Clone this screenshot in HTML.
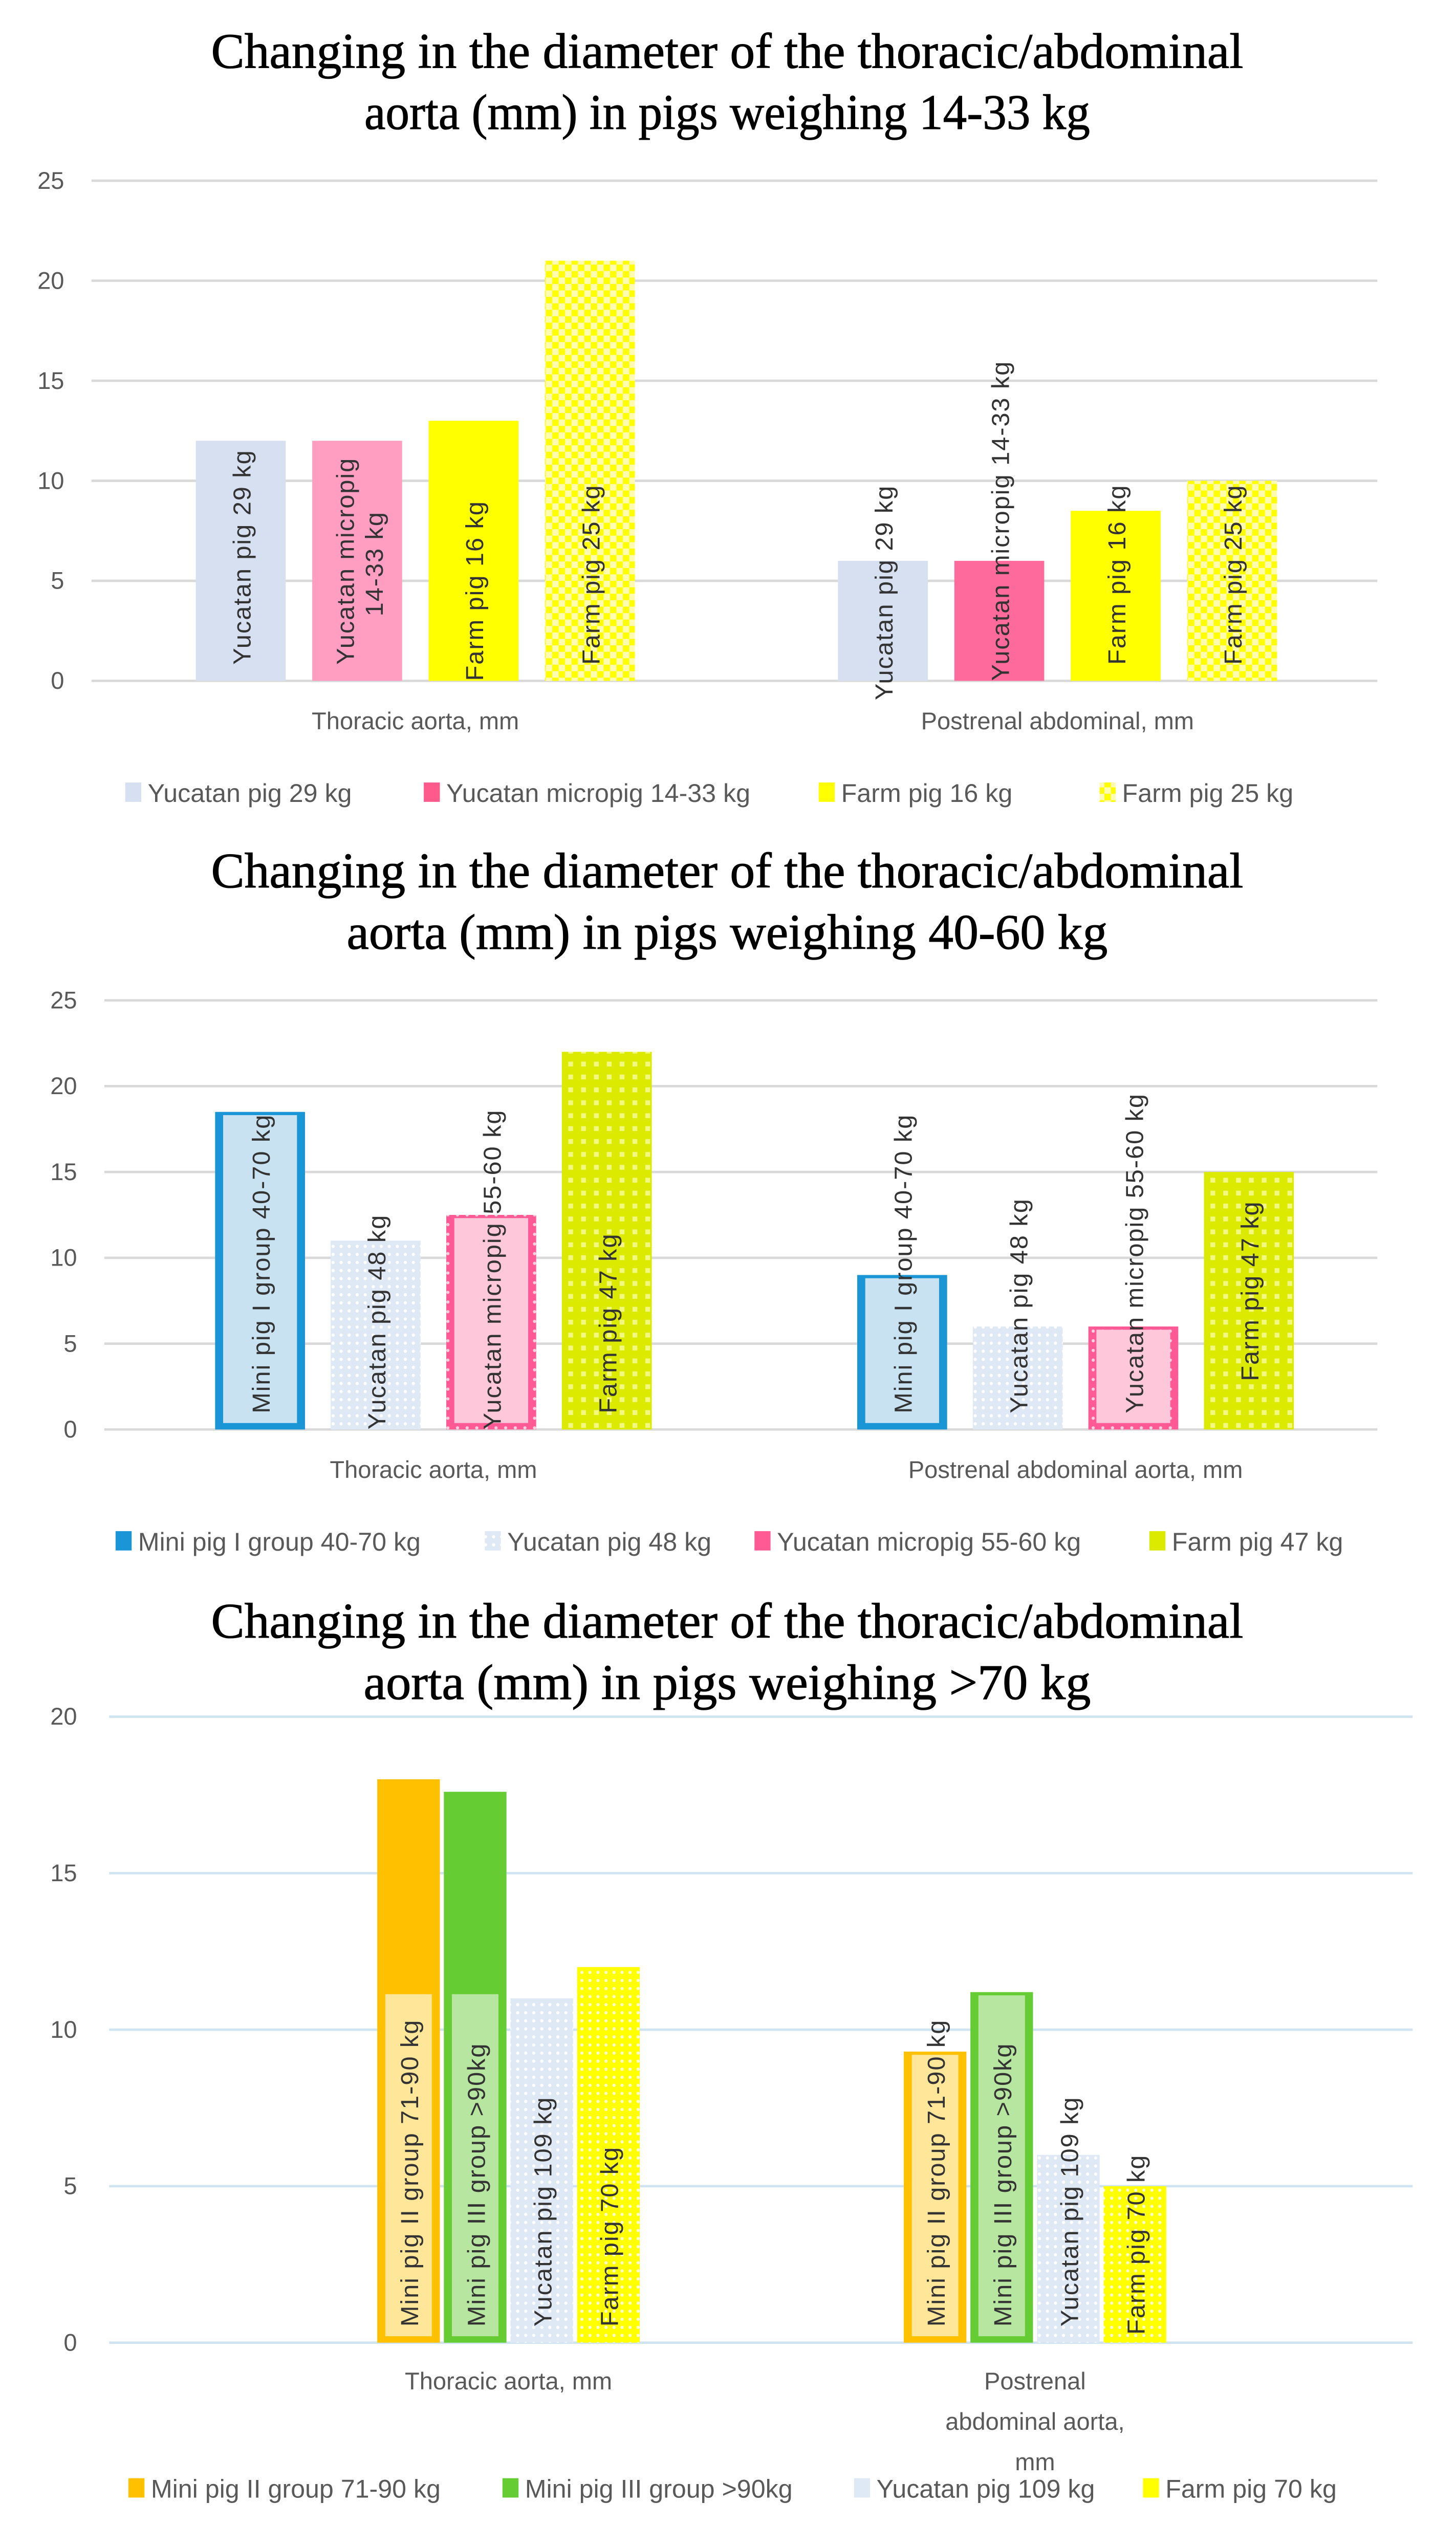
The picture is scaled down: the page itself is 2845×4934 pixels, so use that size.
<!DOCTYPE html>
<html><head><meta charset="utf-8"><style>
html,body{margin:0;padding:0;background:#fff}
svg{display:block}
</style></head><body>
<svg id="root" width="2845" height="4934" viewBox="0 0 907 1565" preserveAspectRatio="none" xmlns="http://www.w3.org/2000/svg">
<defs>
<pattern id="checkY" width="8" height="8" patternUnits="userSpaceOnUse"><rect width="8" height="8" fill="#ffff00"/><rect x="0" y="0" width="4" height="4" fill="#fffbb0"/><rect x="4" y="4" width="4" height="4" fill="#fffbb0"/></pattern>
<pattern id="dotLB" width="5" height="5" patternUnits="userSpaceOnUse"><rect width="5" height="5" fill="#dfe8f5"/><circle cx="2.5" cy="2.5" r="1" fill="#fff"/></pattern>
<pattern id="dotPk" width="6" height="6" patternUnits="userSpaceOnUse"><rect width="6" height="6" fill="#ff5a94"/><circle cx="3" cy="3" r="1" fill="#ffd0e0"/></pattern>
<pattern id="dotYG" width="8" height="8" patternUnits="userSpaceOnUse"><rect width="8" height="8" fill="#dcea00"/><rect x="2" y="2" width="3" height="3" fill="#f2f880"/></pattern>
<pattern id="dotY" width="5" height="5" patternUnits="userSpaceOnUse"><rect width="5" height="5" fill="#ffff00"/><circle cx="2.5" cy="2.5" r="1" fill="#fffbd0"/></pattern>
</defs>
<g id="charts"></g>
</svg>
<script>
// ---- Chart 1 data ----
const c1Categories = ["Thoracic aorta, mm", "Postrenal abdominal, mm"];
const c1Series = ["Yucatan pig 29 kg", "Yucatan micropig 14-33 kg", "Farm pig 16 kg", "Farm pig 25 kg"];
const c1Thoracic = [12, 12, 13, 21];
const c1Postrenal = [6, 6, 8.5, 10];
const c1Ticks = [0, 5, 10, 15, 20, 25];
// ---- Chart 2 data ----
const c2Categories = ["Thoracic aorta, mm", "Postrenal abdominal aorta, mm"];
const c2Series = ["Mini pig I group 40-70 kg", "Yucatan pig 48 kg", "Yucatan micropig 55-60 kg", "Farm pig 47 kg"];
const c2Thoracic = [18.5, 11, 12.5, 22];
const c2Postrenal = [9, 6, 6, 15];
const c2Ticks = [0, 5, 10, 15, 20, 25];
// ---- Chart 3 data ----
const c3Categories = ["Thoracic aorta, mm", "Postrenal abdominal aorta, mm"];
const c3Series = ["Mini pig II group 71-90 kg", "Mini pig III group  >90kg", "Yucatan pig 109 kg", "Farm pig 70 kg"];
const c3Thoracic = [18, 17.6, 11, 12];
const c3Postrenal = [9.3, 11.2, 6, 5];
const c3Ticks = [0, 5, 10, 15, 20];

const NS = "http://www.w3.org/2000/svg";
const root = document.getElementById('charts');
function mk(tag, attrs, parent, text) {
  const e = document.createElementNS(NS, tag);
  for (const k in attrs) e.setAttribute(k, attrs[k]);
  if (text !== undefined) e.textContent = text;
  (parent || root).appendChild(e);
  return e;
}

const cfgs = [
  {id:'chart1', title:["Changing in the diameter of the thoracic/abdominal","aorta (mm) in pigs weighing  14-33 kg"], ty:[42,80], tl2:452,
   cats:c1Categories, series:c1Series, vals:[c1Thoracic,c1Postrenal], ticks:c1Ticks, max:25,
   y0:422, yTop:112, gx0:57, gx1:858, grid:'#d9d9d9', groupX:[122,522], bw:56, step:72.5,
   fills:[['#d6e0f0','#d6e0f0'],['#ff9ec0','#ff6a9c'],['#ffff00','#ffff00'],['url(#checkY)','url(#checkY)']],
   inner:[null,null,null,null], catY:[[452],[452]], legY:497, legX:[78,264,510,685], legFill:['#d6e0f0','#ff5a8c','#ffff00','url(#checkY)'],
   labelOff:[[-10,-10,0,-10],[12,0,-10,-10]]},
  {id:'chart2', title:["Changing in the diameter of the thoracic/abdominal","aorta (mm) in pigs weighing  40-60 kg"], ty:[550,588], tl2:474,
   cats:c2Categories, series:c2Series, vals:[c2Thoracic,c2Postrenal], ticks:c2Ticks, max:25,
   y0:886, yTop:620, gx0:65, gx1:858, grid:'#d9d9d9', groupX:[134,534], bw:56, step:72,
   fills:[['#1a96d6','#1a96d6'],['url(#dotLB)','url(#dotLB)'],['url(#dotPk)','url(#dotPk)'],['url(#dotYG)','url(#dotYG)']],
   inner:['#c8e2f2',null,'#ffc8da',null], catY:[[916],[916]], legY:961, legX:[72,302,470,716], legFill:['#1a96d6','url(#dotLB)','#ff5a94','#dcea00'],
   labelOff:[[-10,0,0,-10],[-10,-10,-10,-30]]},
  {id:'chart3', title:["Changing in the diameter of the thoracic/abdominal","aorta (mm) in pigs weighing  >70 kg"], ty:[1015,1053], tl2:453,
   cats:c3Categories, series:c3Series, vals:[c3Thoracic,c3Postrenal], ticks:c3Ticks, max:20,
   y0:1452, yTop:1064, gx0:68, gx1:880, grid:'#cfe3f1', groupX:[235,563], bw:39, step:41.5,
   fills:[['#ffc000','#ffc000'],['#66cc33','#66cc33'],['url(#dotLB)','url(#dotLB)'],['url(#dotY)','url(#dotY)']],
   inner:['#ffe699','#b7e6a0',null,null], catY:[[1481],[1481,1506,1531]], legY:1548, legX:[80,313,532,712], legFill:['#ffc000','#66cc33','#dfe8f5','#ffff00'],
   labelOff:[[-10,-10,-10,-10],[-10,-10,-10,-5]]}
];
const catLines = {chart3:[["Thoracic aorta, mm"],["Postrenal","abdominal aorta,","mm"]]};

cfgs.forEach(c => {
  const g = mk('g', {});
  
  
  const yScale = v => c.y0 - (v / c.max) * (c.y0 - c.yTop);
  c.title.forEach((t, i) => {
    const tt = mk('text', {x:453, y:c.ty[i], 'text-anchor':'middle', 'font-family':'Liberation Serif, serif', 'font-size':31, fill:'#000', stroke:'#000', 'stroke-width':0.35, textLength:(i===0?643:c.tl2), lengthAdjust:'spacingAndGlyphs'}, g, t);
    
    
  });
  c.ticks.forEach(v => {
    const y = yScale(v);
    const ln = mk('line', {x1:c.gx0, x2:c.gx1, y1:y, y2:y, stroke:c.grid, 'stroke-width':1.5}, g);
    
    
    const tl = mk('text', {x:c.id==='chart1'?40:48, y:y+5, 'text-anchor':'end', 'font-family':'Liberation Sans, sans-serif', 'font-size':15, fill:'#595959'}, g, String(v));
    
    
  });
  c.vals.forEach((arr, ci) => {
    arr.forEach((v, si) => {
      const x = c.groupX[ci] + si * c.step;
      const y = yScale(v);
      const r = mk('rect', {x:x, y:y, width:c.bw, height:c.y0 - y, fill:c.fills[si][ci]}, g);
      
      
      if (c.inner[si]) {
        const ih = Math.min(c.y0 - y - 6, (c.id==='chart3') ? 212 : 210);
        const ir = mk('rect', {x:x+5, y:c.y0 - 4 - ih, width:c.bw-10, height:ih, fill:c.inner[si]}, g);
        
        
      }
      const lx = x + c.bw/2 + 6;
      const ly = c.y0 + c.labelOff[ci][si];
      const lines = (c.id==='chart1' && ci===0 && si===1) ? ["Yucatan micropig","14-33 kg"] : [c.series[si]];
      lines.forEach((ln, li) => {
        const xx = lx + (lines.length>1 ? (li===0?-8:10) : 0);
        const yy = (lines.length>1 && li===1) ? ly - 30 : ly;
        const t = mk('text', {x:xx, y:yy, transform:`rotate(-90 ${xx} ${yy})`, 'font-family':'Liberation Sans, sans-serif', 'font-size':15.5, 'letter-spacing':0.6, fill:'#333'}, g, ln);
        
        
      });
    });
    const cx = c.groupX[ci] + (3*c.step + c.bw)/2;
    const lines = catLines[c.id] ? catLines[c.id][ci] : [c.cats[ci]];
    lines.forEach((ln, li) => {
      const t = mk('text', {x:cx, y:c.catY[ci][li], 'text-anchor':'middle', 'font-family':'Liberation Sans, sans-serif', 'font-size':15, fill:'#595959'}, g, ln);
      
      
    });
  });
  c.series.forEach((s, si) => {
    const sw = mk('rect', {x:c.legX[si], y:c.legY-12, width:10, height:12, fill:c.legFill[si]}, g);
    
    
    const t = mk('text', {x:c.legX[si]+14, y:c.legY, 'font-family':'Liberation Sans, sans-serif', 'font-size':16, fill:'#595959'}, g, s);
    
    
  });
});
</script>
</body></html>
